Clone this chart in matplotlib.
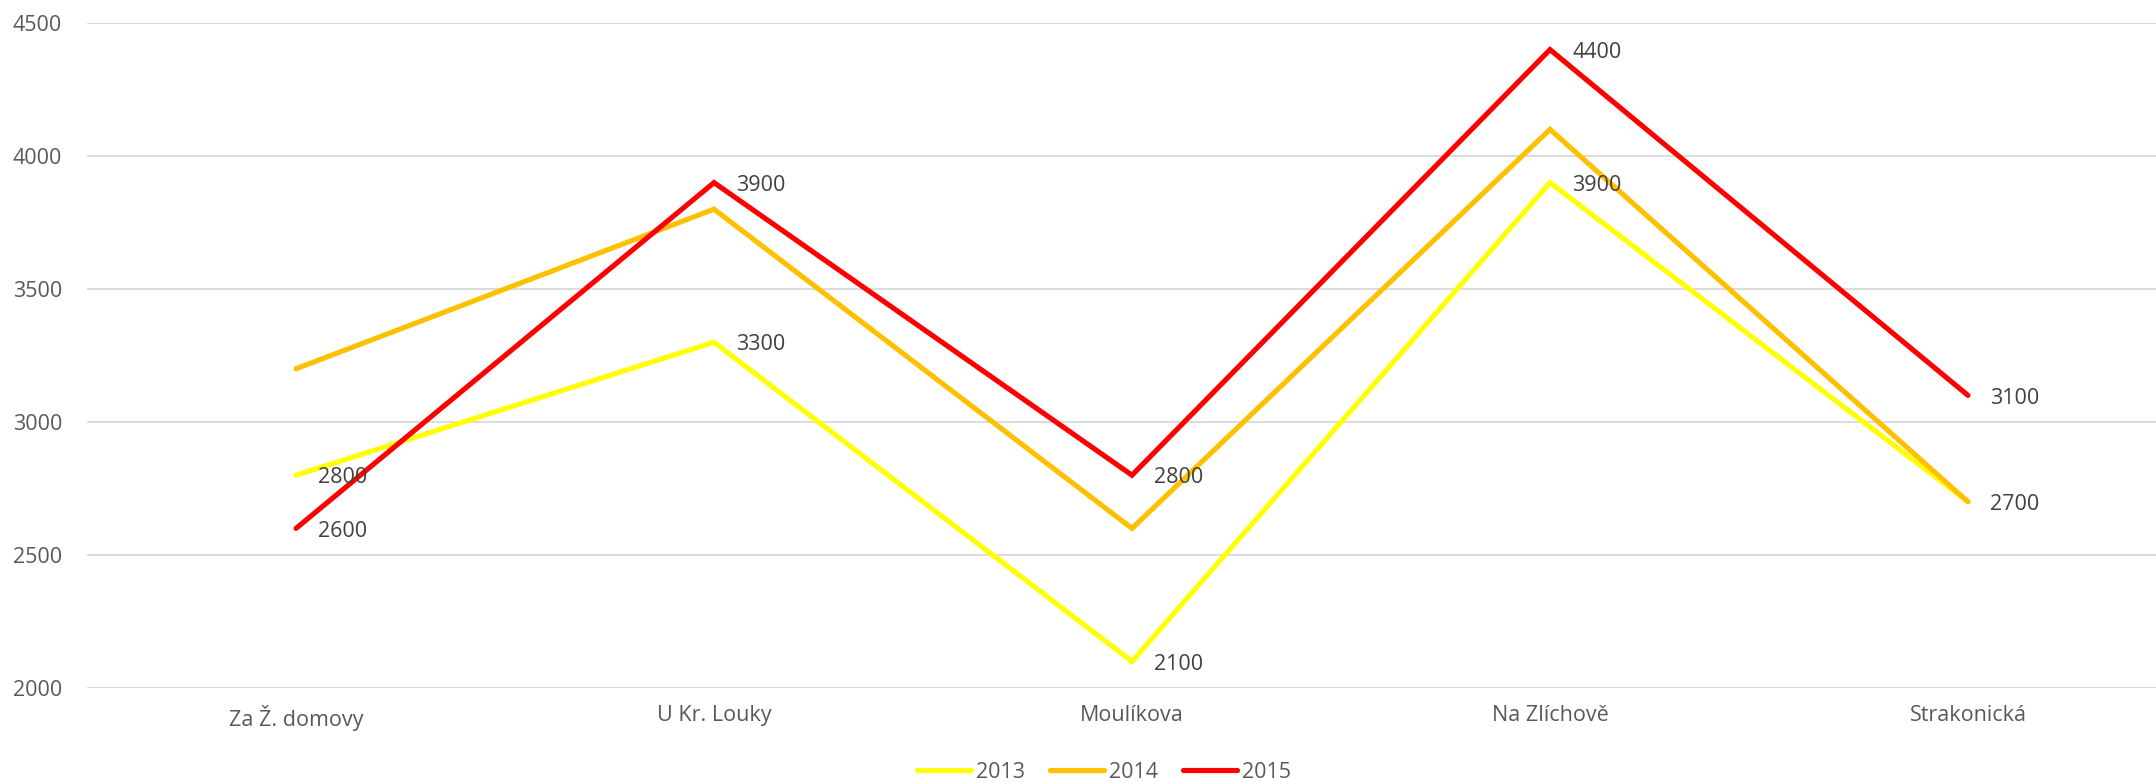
import numpy as np
import matplotlib
matplotlib.use("Agg")
import matplotlib.pyplot as plt

plt.rcParams['font.family'] = ['Open Sans', 'DejaVu Sans']

streets = ['Za Ž. domovy', 'U Kr. Louky', 'Moulíkova', 'Na Zlíchově', 'Strakonická']
years = ['2013', '2014', '2015']
vals_2013 = [2800, 3300, 2100, 3900, 2700]
vals_2014 = [3200, 3800, 2600, 4100, 2700]
vals_2015 = [2600, 3900, 2800, 4400, 3100]
colors = ['#FFFF00', '#FFC000', '#FF0000']
labeled = [True, False, True]  # which series carry data labels

fig = plt.figure(figsize=(21.56, 7.84), dpi=100)
ax = fig.add_axes([87 / 2156, 96 / 784, 2090 / 2156, 665 / 784])

x = np.arange(len(streets))
series = [vals_2013, vals_2014, vals_2015]
for name, vals, col, lab in zip(years, series, colors, labeled):
    ax.plot(x, vals, color=col, lw=3.7, solid_capstyle='round',
            solid_joinstyle='miter', label=name, zorder=3)
    if lab:
        for xi, v in zip(x, vals):
            ax.annotate(str(v), (xi, v), xytext=(16, -2), textcoords='offset points',
                        ha='left', va='center', fontsize=15.5, color='#404040', zorder=4)

ax.set_xlim(-0.5, 4.5)
ax.set_ylim(2000, 4500)
ax.set_yticks(np.arange(2000, 4501, 500))
ax.set_xticks(x)
ax.set_xticklabels(streets)
ax.grid(axis='y', color='#D9D9D9', lw=1.3, zorder=0)
ax.tick_params(axis='both', length=0, labelsize=15.5, labelcolor='#595959')
ax.tick_params(axis='x', pad=12)
ax.tick_params(axis='y', pad=18)
for s in ax.spines.values():
    s.set_visible(False)

fig.legend(loc='center', bbox_to_anchor=(1104 / 2156, 1 - 772 / 784), ncol=3,
           frameon=False, fontsize=15.5, labelcolor='#595959',
           handlelength=2.5, handletextpad=0.2, columnspacing=1.2)

fig.savefig('out.png', dpi=100)
